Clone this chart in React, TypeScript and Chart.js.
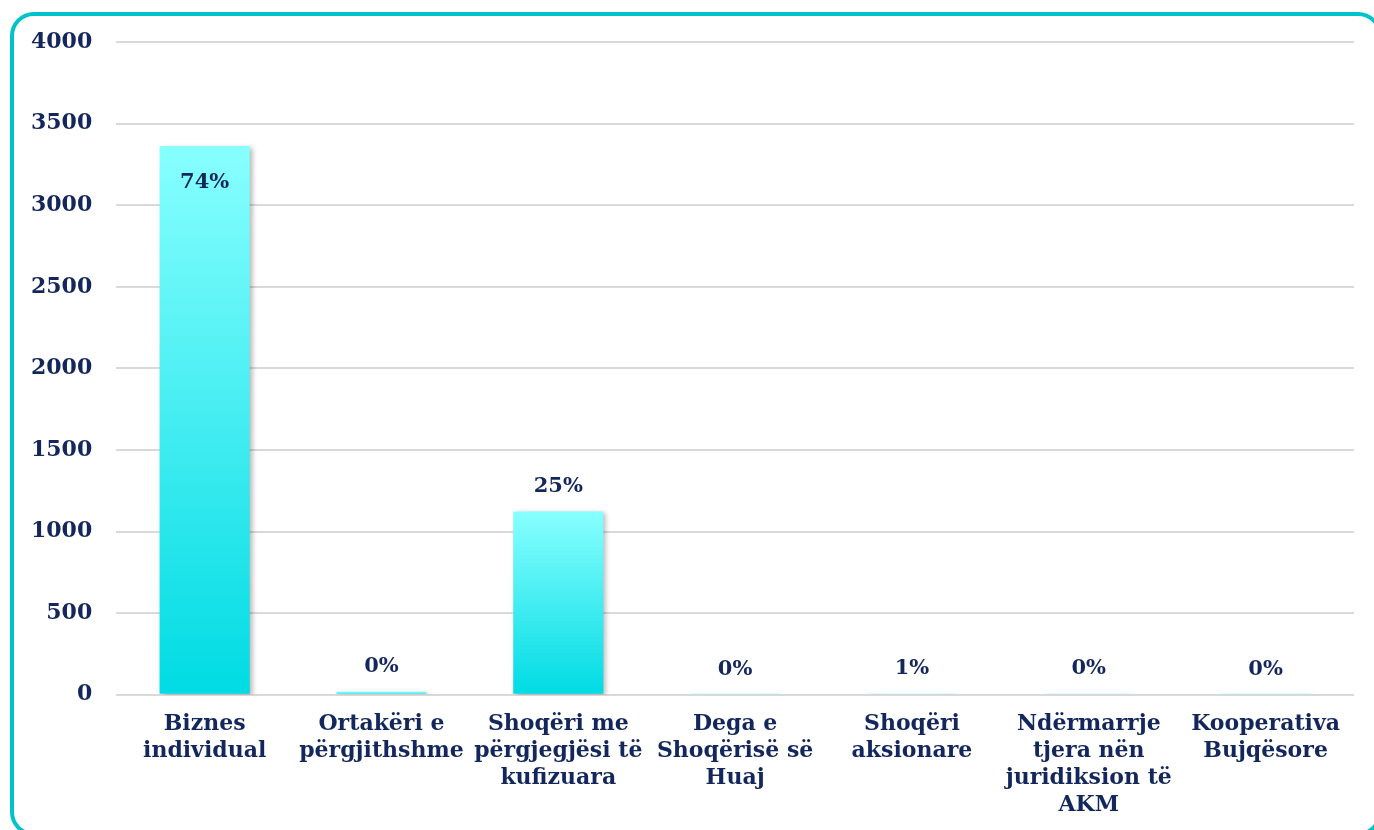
import React, { useEffect, useRef } from "react";
import { Chart, registerables } from "chart.js";

Chart.register(...registerables);

const categories: string[][] = [
  ["Biznes", "individual"],
  ["Ortakëri e", "përgjithshme"],
  ["Shoqëri me", "përgjegjësi të", "kufizuara"],
  ["Dega e", "Shoqërisë së", "Huaj"],
  ["Shoqëri", "aksionare"],
  ["Ndërmarrje", "tjera nën", "juridiksion të", "AKM"],
  ["Kooperativa", "Bujqësore"],
];
const values: number[] = [3362, 18, 1123, 3, 8, 5, 3];
const percentLabels: string[] = ["74%", "0%", "25%", "0%", "1%", "0%", "0%"];
const yTicks: number[] = [0, 500, 1000, 1500, 2000, 2500, 3000, 3500, 4000];

const NAVY = "#13275c";
const FONT = "'DejaVu Serif', Georgia, serif";

export default function App() {
  const ref = useRef<HTMLCanvasElement | null>(null);

  useEffect(() => {
    if (!ref.current) return;

    const shadowPlugin = {
      id: "barShadow",
      beforeDatasetDraw(chart: any) {
        const c = chart.ctx;
        c.save();
        c.shadowColor = "rgba(0,0,0,0.28)";
        c.shadowBlur = 5;
        c.shadowOffsetX = 3;
        c.shadowOffsetY = 2;
      },
      afterDatasetDraw(chart: any) {
        chart.ctx.restore();
      },
    };

    const labelPlugin = {
      id: "pctLabels",
      afterDatasetsDraw(chart: any) {
        const c = chart.ctx;
        const meta = chart.getDatasetMeta(0);
        c.save();
        c.font = `bold 21px ${FONT}`;
        c.fillStyle = NAVY;
        c.textAlign = "center";
        c.textBaseline = "middle";
        meta.data.forEach((el: any, i: number) => {
          const inside = i === 0;
          const y = inside ? el.y + 36 : el.y - 25;
          c.fillText(percentLabels[i], el.x, y);
        });
        c.restore();
      },
    };

    const chart = new Chart(ref.current, {
      type: "bar",
      data: {
        labels: categories,
        datasets: [
          {
            data: values,
            backgroundColor: (ctx: any) => {
              const ch = ctx.chart;
              const ys = ch.scales?.y;
              if (!ys || ctx.parsed == null) return "#40e8f0";
              const top = ys.getPixelForValue(ctx.parsed.y);
              const base = ys.getPixelForValue(0);
              if (!isFinite(top) || !isFinite(base) || base - top < 1) return "#88ffff";
              const g = ch.ctx.createLinearGradient(0, top, 0, base);
              g.addColorStop(0, "#88ffff");
              g.addColorStop(1, "#00dbe3");
              return g;
            },
            borderWidth: 0,
            barPercentage: 0.51,
            categoryPercentage: 1,
          },
        ],
      },
      options: {
        animation: false,
        responsive: false,
        maintainAspectRatio: false,
        layout: { padding: { top: 42, right: 20, bottom: 3, left: 7 } },
        plugins: {
          legend: { display: false },
          tooltip: { enabled: false },
        },
        scales: {
          x: {
            grid: { display: false },
            border: { display: false },
            ticks: {
              color: NAVY,
              font: { family: FONT, size: 22, weight: "bold", lineHeight: 1.23 },
              padding: 8,
              maxRotation: 0,
              autoSkip: false,
            },
          },
          y: {
            min: 0,
            max: 4000,
            afterBuildTicks: (axis: any) => {
              axis.ticks = yTicks.map((v) => ({ value: v }));
            },
            grid: { color: "#d9d9d9", lineWidth: 2, drawTicks: false },
            border: { display: false },
            ticks: {
              color: NAVY,
              font: { family: FONT, size: 22, weight: "bold" },
              padding: 24,
              callback: (v: any) => String(v),
            },
          },
        },
      },
      plugins: [shadowPlugin, labelPlugin],
    } as any);

    return () => chart.destroy();
  }, []);

  return (
    <div style={{ position: "fixed", left: 0, top: 0, width: 1374, height: 830, overflow: "hidden", background: "#fff" }}>
      <div
        style={{
          position: "absolute",
          left: 10,
          top: 12,
          width: 1372,
          height: 824,
          boxSizing: "border-box",
          border: "4px solid #00c2c9",
          borderRadius: 24,
        }}
      />
      <canvas ref={ref} width={1374} height={830} style={{ position: "absolute", left: 0, top: 0, width: 1374, height: 830 }} />
    </div>
  );
}
